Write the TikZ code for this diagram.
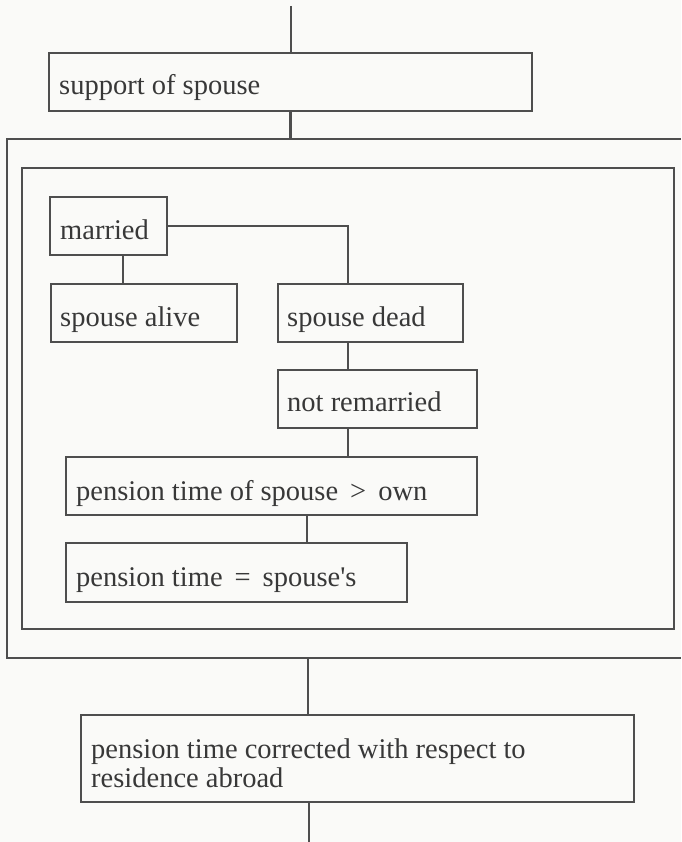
\documentclass[tikz,border=0pt]{standalone}
\usepackage{fontspec}
\setmainfont{Liberation Serif}
\usetikzlibrary{calc}
\definecolor{ink}{HTML}{4E4E4E}
\definecolor{txt}{HTML}{383838}
\definecolor{paper}{HTML}{FAFAF8}
% widely spaced relation sign between words
\newcommand{\relsign}[1]{\hspace{12pt}#1\hspace{12pt}}
\begin{document}
\begin{tikzpicture}[x=1pt,y=-1pt,
  box/.style={draw=ink, line width=2.4pt, rectangle, inner sep=0pt, outer sep=0pt},
  lbl/.style={text=txt, font=\fontsize{28.5}{29}\selectfont, inner sep=0pt, anchor=base west},
  link/.style={draw=ink, line width=2.4pt}]
  % page
  \fill[paper] (0,0) rectangle (681,842);
  \useasboundingbox (0,0) rectangle (681,842);

  % guide coordinates for free ends and vertical connector positions
  \coordinate (topend) at (291,6);
  \coordinate (btmend) at (309,842);
  \coordinate (otop) at (0,139);
  \coordinate (obot) at (0,658);
  \coordinate (xa) at (123,0);
  \coordinate (xb) at (348,0);
  \coordinate (xc) at (307,0);
  \coordinate (xd) at (308,0);
  \coordinate (xe) at (309,0);

  % boxes
  \node[box, minimum width=483pt, minimum height=58pt] (sup)   at (290.5,82)  {};
  \node[box, minimum width=652pt, minimum height=461pt] (inner) at (348,398.5) {};
  \node[box, minimum width=117pt, minimum height=58pt] (mar)   at (108.5,226) {};
  \node[box, minimum width=186pt, minimum height=58pt] (alive) at (144,313)   {};
  \node[box, minimum width=185pt, minimum height=58pt] (dead)  at (370.5,313) {};
  \node[box, minimum width=199pt, minimum height=58pt] (notre) at (377.5,399) {};
  \node[box, minimum width=411pt, minimum height=58pt] (pt1)   at (271.5,486) {};
  \node[box, minimum width=341pt, minimum height=59pt] (pt2)   at (236.5,572.5) {};
  \node[box, minimum width=553pt, minimum height=87pt] (res)   at (357.5,758.5) {};

  % outer frame, open at the right page edge
  \draw[link] (681,139) -- (7,139) -- (7,658) -- (681,658);

  % labels
  \node[lbl] (tsup)   at ([xshift=10pt,yshift=-13pt]sup.west)   {support of spouse};
  \node[lbl] (tmar)   at ([xshift=10pt,yshift=-13pt]mar.west)   {married};
  \node[lbl] (talive) at ([xshift=9pt,yshift=-13pt]alive.west)  {spouse alive};
  \node[lbl] (tdead)  at ([xshift=9pt,yshift=-13pt]dead.west)   {spouse dead};
  \node[lbl] (tnotre) at ([xshift=9pt,yshift=-12pt]notre.west)  {not remarried};
  \node[lbl] (tpt1)   at ([xshift=10pt,yshift=-14pt]pt1.west)   {pension time of spouse\relsign{>}own};
  \node[lbl] (tpt2)   at ([xshift=10pt,yshift=-13.5pt]pt2.west) {pension time\relsign{=}spouse\textquotesingle s};
  \node[lbl, text width=530pt, align=left] (tres) at ([xshift=10pt,yshift=0pt]res.west)
    {\spaceskip=0pt\xspaceskip=0pt\relax pension time corrected with respect to\\residence abroad};

  % connectors
  \draw[link] (topend) -- (topend |- sup.north);
  \draw[link] (sup.south) -- (sup.south |- otop);
  \draw[link] (mar.south -| xa) -- (alive.north -| xa);
  \draw[link] (mar.east) -| (xb |- dead.north);
  \draw[link] (dead.south -| xb) -- (notre.north -| xb);
  \draw[link] (notre.south -| xb) -- (pt1.north -| xb);
  \draw[link] (pt1.south -| xc) -- (pt2.north -| xc);
  \draw[link] (xd |- obot) -- (res.north -| xd);
  \draw[link] (res.south -| xe) -- (btmend);
\end{tikzpicture}
\end{document}
